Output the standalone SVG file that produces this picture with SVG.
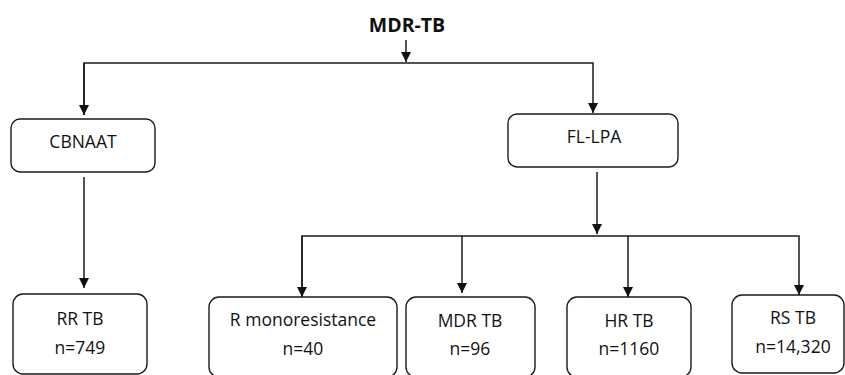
<svg xmlns="http://www.w3.org/2000/svg" width="845" height="375" viewBox="0 0 845 375">
<style>
.box{fill:#fff;stroke:#1a1a1a;stroke-width:1.4}
.t{font-family:"Open Sans","Liberation Sans",Arial,sans-serif;font-size:17.5px;fill:#111;text-anchor:middle}
.title{font-family:"Open Sans","Liberation Sans",Arial,sans-serif;font-size:19.5px;font-weight:bold;fill:#111;text-anchor:middle}
.ln{fill:none;stroke:#1a1a1a;stroke-width:1.5}
</style>
<defs>
<marker id="ah" viewBox="0 0 10 10" refX="10" refY="5" markerWidth="10" markerHeight="10" markerUnits="userSpaceOnUse" orient="auto">
<path d="M0,0 L10,5 L0,10 z" fill="#111"/>
</marker>
</defs>
<rect width="845" height="375" fill="#fff"/>
<g id="connectors">
<path class="ln" d="M406,40 V62" marker-end="url(#ah)"/>
<path class="ln" d="M84,115 V63 H593 V113" marker-end="url(#ah)"/>
<path class="ln" d="M84,63 V115" marker-end="url(#ah)"/>
<path class="ln" d="M84,177 V288" marker-end="url(#ah)"/>
<path class="ln" d="M597,172 V234" marker-end="url(#ah)"/>
<path class="ln" d="M302,297 V236 H799 V295" marker-end="url(#ah)"/>
<path class="ln" d="M302,236 V297" marker-end="url(#ah)"/>
<path class="ln" d="M462,236 V293" marker-end="url(#ah)"/>
<path class="ln" d="M628,236 V297" marker-end="url(#ah)"/>
</g>
<g id="title">
<text class="title" x="407" y="32">MDR-TB</text>
</g>
<g id="cbnaat">
<rect class="box" x="11" y="119" width="144" height="53" rx="9"/>
<text class="t" x="83" y="148">CBNAAT</text>
</g>
<g id="fllpa">
<rect class="box" x="508" y="114" width="170" height="53" rx="9"/>
<text class="t" x="594" y="143">FL-LPA</text>
</g>
<g id="rrtb">
<rect class="box" x="13" y="294" width="134" height="80" rx="10"/>
<text class="t" x="80" y="325">RR TB</text>
<text class="t" x="80" y="354">n=749</text>
</g>
<g id="rmono">
<rect class="box" x="209" y="297" width="188" height="80" rx="10"/>
<text class="t" x="303" y="326">R monoresistance</text>
<text class="t" x="303" y="355">n=40</text>
</g>
<g id="mdrtb">
<rect class="box" x="406" y="297" width="129" height="80" rx="10"/>
<text class="t" x="470" y="327">MDR TB</text>
<text class="t" x="470" y="355">n=96</text>
</g>
<g id="hrtb">
<rect class="box" x="567" y="297" width="124" height="80" rx="10"/>
<text class="t" x="629" y="327">HR TB</text>
<text class="t" x="629" y="355">n=1160</text>
</g>
<g id="rstb">
<rect class="box" x="732" y="295" width="112" height="78" rx="10"/>
<text class="t" x="793" y="324">RS TB</text>
<text class="t" x="793" y="353">n=14,320</text>
</g>
</svg>
